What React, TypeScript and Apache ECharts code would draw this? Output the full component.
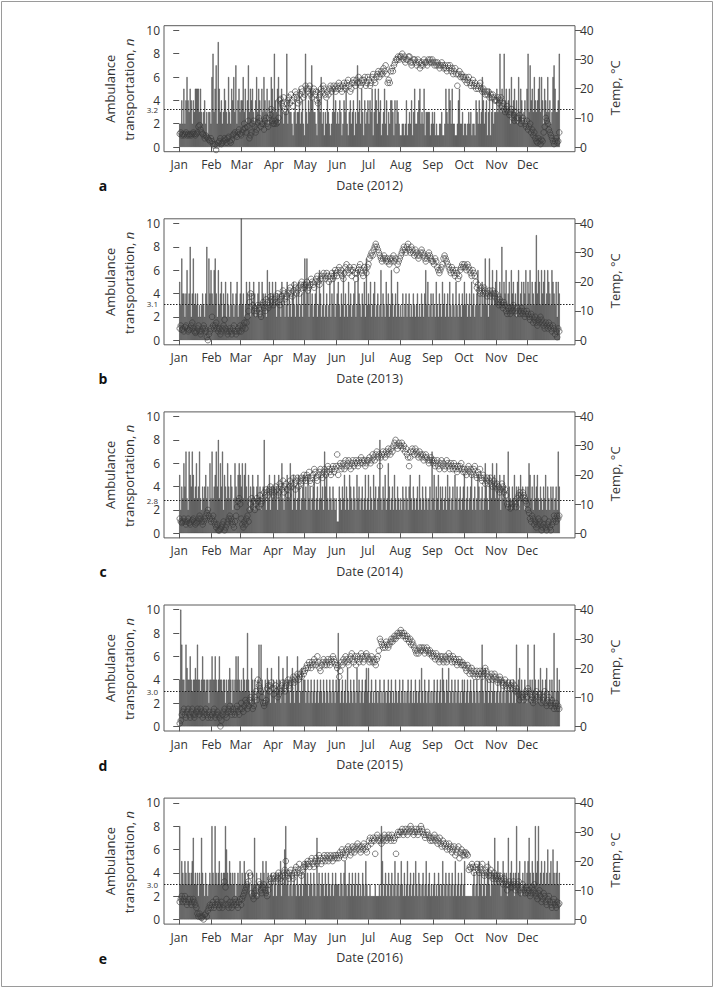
import React, { useEffect, useRef } from "react";
import * as echarts from "echarts";

// ---------- data ----------
const years = [2012, 2013, 2014, 2015, 2016];
const panelLetters = ["a", "b", "c", "d", "e"];
const meanCounts = [3.2, 3.1, 2.8, 3.0, 3.0];
const meanLabels = ["3.2", "3.1", "2.8", "3.0", "3.0"];
const monthNames = ["Jan", "Feb", "Mar", "Apr", "May", "Jun", "Jul", "Aug", "Sep", "Oct", "Nov", "Dec"];
const countTicks = [0, 2, 4, 6, 8, 10];
const tempTicks = [0, 10, 20, 30, 40];

// daily ambulance transportation counts
const count2012 = [
  2,2,4,2,5,2,4,6,4,3,5,4,2,4,3,5,5,5,5,3,5,3,2,3,4,2,3,1,3,3,2,
  6,8,3,5,7,2,9,5,3,4,2,3,5,4,3,2,6,3,2,5,4,6,3,7,2,4,5,3,4,
  4,6,3,5,2,4,7,3,5,4,5,3,2,4,6,3,5,4,2,5,3,6,4,3,5,2,4,3,6,5,3,
  8,4,3,5,6,2,4,5,3,2,3,3,8,2,4,3,3,2,1,3,4,2,3,3,5,2,3,4,2,1,
  8,3,2,4,3,5,7,4,3,3,2,1,5,4,3,6,2,3,1,3,2,4,3,2,1,2,3,5,3,4,2,
  3,2,4,3,1,2,4,3,5,2,1,3,4,2,3,4,1,3,2,7,3,4,2,5,3,1,4,2,3,4,
  2,4,3,5,1,3,5,4,2,5,3,4,1,2,3,5,2,4,1,3,2,4,4,3,1,4,2,4,3,2,1,
  1,2,2,1,2,4,1,2,3,2,4,1,3,5,2,2,3,4,5,2,3,2,5,1,3,3,3,3,1,2,3,
  2,3,1,2,1,1,2,2,3,1,1,2,5,3,2,5,4,2,5,2,2,1,1,2,4,5,2,2,3,1,
  2,2,1,2,3,2,3,1,2,2,1,4,3,2,4,2,3,6,4,2,3,4,1,3,5,1,3,4,2,3,3,
  5,3,4,8,3,5,3,8,4,5,3,4,5,2,6,3,4,5,3,4,2,6,3,5,4,2,3,4,2,5,
  8,3,7,4,5,3,6,4,3,4,5,6,3,6,4,2,5,4,3,6,3,4,2,3,6,7,5,3,3,4,8,
];
const count2013 = [
  5,3,7,4,4,2,4,6,3,4,8,2,4,7,3,4,3,4,2,3,2,3,4,3,2,4,8,3,7,4,6,
  4,3,6,7,4,2,6,3,4,5,2,4,3,5,2,4,3,2,5,3,4,2,3,4,5,2,3,4,
  11,3,4,2,3,5,4,3,5,2,4,3,5,4,2,3,4,5,2,3,5,4,3,4,2,6,3,5,4,3,5,
  4,3,5,2,4,3,4,2,5,3,4,2,3,5,2,4,3,2,4,5,3,2,4,3,5,2,3,4,2,5,
  7,3,7,4,2,5,3,4,2,3,4,5,2,3,6,4,2,3,5,2,3,4,2,3,5,2,4,3,6,2,3,
  4,5,3,2,4,3,6,2,4,3,2,5,3,4,2,3,4,5,2,3,6,4,3,2,4,3,5,2,7,3,
  4,3,5,2,3,4,5,2,3,4,2,3,6,2,4,3,2,5,3,4,2,3,6,4,2,3,4,2,5,3,2,
  3,2,4,2,3,4,2,3,4,2,3,2,4,3,2,3,4,2,3,2,4,3,2,4,6,3,5,2,3,4,2,
  4,3,2,5,3,2,4,3,2,5,3,4,2,3,4,2,5,3,2,4,3,2,5,3,2,4,3,2,4,3,
  5,3,4,2,3,4,2,5,3,4,2,3,4,6,3,4,2,5,3,4,7,3,4,2,7,3,4,6,3,4,5,
  6,4,3,5,4,8,3,5,4,6,3,4,5,3,6,4,5,3,4,2,5,6,3,4,5,3,5,4,6,3,
  5,4,6,3,5,4,3,5,9,4,6,5,3,6,4,5,6,3,4,6,5,4,3,6,5,4,3,5,2,5,4,
];
const count2014 = [
  5,2,4,3,6,4,7,3,2,7,5,4,7,5,3,4,6,3,4,7,3,2,4,3,4,5,3,4,2,6,3,
  7,3,4,5,7,4,8,3,6,4,7,2,5,4,3,6,4,3,5,4,2,3,6,4,3,5,6,5,
  4,6,3,5,6,4,3,5,2,4,3,5,4,2,3,4,5,3,4,2,3,4,8,3,2,4,3,5,2,4,3,
  4,5,3,4,2,5,3,4,6,3,2,4,3,5,4,3,6,4,2,5,3,4,2,3,5,4,2,3,4,5,
  3,4,2,5,3,4,2,3,4,5,2,3,4,2,3,5,3,4,2,7,4,5,3,2,4,3,2,4,3,2,3,
  1,1,4,3,2,4,3,5,2,4,3,2,5,4,3,2,4,3,2,5,3,4,2,3,4,2,3,5,2,3,
  5,2,4,3,2,5,3,4,2,3,4,8,3,2,4,3,5,2,3,6,4,2,3,4,2,5,3,2,4,3,2,
  3,2,4,3,2,4,3,2,4,5,3,2,4,3,2,3,4,2,5,3,2,4,3,2,4,3,2,3,4,2,7,
  3,5,2,4,3,5,2,4,3,4,2,3,4,2,5,3,4,2,3,4,2,5,3,4,2,3,4,2,3,4,
  5,2,3,4,2,3,4,5,2,3,4,2,3,5,4,2,3,4,2,3,6,4,3,2,5,4,3,6,4,5,3,
  6,4,3,5,2,4,3,5,4,3,2,7,4,3,2,4,3,5,2,4,3,4,2,5,3,4,3,2,4,3,
  4,6,5,3,4,2,5,3,4,5,3,2,4,3,2,4,3,5,2,4,3,2,4,3,4,2,3,4,2,7,4,
];
const count2015 = [
  4,10,7,4,4,3,7,5,4,4,6,4,3,4,4,5,4,7,4,4,3,4,6,4,4,3,4,4,2,4,4,
  6,4,4,6,4,3,4,6,4,4,3,4,4,2,4,3,4,5,4,2,4,3,4,6,4,6,4,3,
  4,3,5,4,3,4,8,4,3,2,5,4,3,4,2,3,4,7,3,7,4,3,2,4,3,5,4,3,2,5,3,
  4,3,2,4,3,6,4,2,3,5,4,2,3,6,4,3,2,4,5,3,2,4,3,6,4,2,3,5,3,4,
  4,2,3,4,2,3,4,2,3,4,2,3,4,2,3,4,3,2,4,3,2,4,3,2,4,3,2,4,3,2,4,
  3,8,4,2,3,4,2,3,4,2,5,3,2,4,3,2,4,3,2,5,3,4,2,3,4,2,3,4,5,3,
  5,2,3,4,2,3,2,4,3,2,3,4,2,3,2,4,3,2,3,4,2,3,4,2,3,2,4,3,2,3,4,
  2,3,4,2,3,2,3,4,2,3,4,2,3,2,4,3,2,3,4,2,5,3,2,4,3,2,3,4,2,3,2,
  3,4,2,3,4,2,3,4,2,5,4,3,2,4,3,5,2,3,4,2,3,4,2,3,4,2,3,2,4,3,
  4,2,3,4,2,3,4,3,2,4,3,2,4,3,2,3,4,7,3,2,5,3,4,2,3,4,2,3,4,3,2,
  3,4,2,3,4,2,3,4,2,3,4,3,2,4,3,2,4,3,2,7,3,4,5,3,4,2,3,4,3,2,
  7,3,4,2,4,3,7,4,2,3,4,2,5,3,4,2,3,4,5,2,3,4,2,4,3,8,2,3,5,3,4,
];
const count2016 = [
  8,3,5,4,3,5,4,3,5,4,3,4,5,7,3,4,3,4,2,4,3,7,4,3,2,4,3,2,3,4,3,
  8,4,3,8,4,3,4,5,3,4,3,4,4,8,6,4,3,5,4,3,4,3,4,2,3,4,3,5,3,
  4,3,5,4,3,3,4,3,2,3,4,3,7,3,4,2,3,3,4,3,5,4,3,5,3,4,2,3,4,3,2,
  3,4,2,3,4,3,5,2,4,3,6,8,3,4,2,3,4,2,3,4,3,2,4,3,2,3,4,2,3,4,
  5,3,4,2,3,4,3,2,4,3,2,7,3,4,2,3,4,3,2,4,3,2,4,3,2,3,4,2,3,4,3,
  3,3,2,4,3,2,4,5,3,2,3,4,2,3,4,2,3,4,2,3,4,2,3,2,4,3,2,5,3,2,
  2,3,2,2,2,2,3,2,2,2,3,2,8,5,2,3,4,2,3,4,2,3,4,2,3,5,2,3,4,2,3,
  5,3,2,4,2,3,5,2,3,4,2,3,4,2,5,3,2,4,3,2,3,4,2,3,5,2,3,4,2,3,2,
  3,4,2,3,2,4,3,2,3,5,2,3,4,2,3,4,2,3,4,2,3,5,2,3,4,2,3,4,2,3,
  5,2,2,2,2,2,2,2,3,4,2,3,4,2,5,3,4,2,3,4,2,3,4,5,3,2,4,3,4,7,3,
  4,5,3,4,2,3,5,4,3,4,2,7,3,4,5,3,4,2,4,8,3,4,5,3,2,4,3,5,3,4,
  5,7,4,3,5,4,3,8,4,5,8,3,4,5,3,4,5,3,4,6,3,4,5,3,6,4,3,4,5,3,4,
];

// daily temperature, deg C
const temp2012 = [
  4.5,5,4,4.5,4,4.5,5,4,4.5,4,4.5,4,4.5,5,4.5,4,4.5,5,7,7.5,6,5,4.5,4,3,4,3.5,3,2.5,2,3,
  2,1,0.5,1,-1,0.5,1.5,2,3,1,1.5,2,3,2.5,1.5,3,3.5,2,1.5,2.5,4,4.5,5,4,3.5,5,6,4.5,4,
  5,6,8,6.5,5,7,9,3,4,5,8,9,7,5,6,8.5,10,9,7,8,8,6,9,10,8,7,10,11,13,9,8,
  8,9,8,8.5,10,16,16.5,15,14,17,13,12,15,16,17,15,18,16,14,17,19,18,17,15,16,18,20,19,17,18,
  21,20,19,20,21,18,17,19,20,18,19,16,15,17,18,20,19,21,20,18,17,19,18,20,21,19,20,21,20,19,21,
  20,22,21,20,19,21,22,20,21,22,23,21,19,20,22,23,22,21,23,22,24,22,21,23,22,23,24,21,22,24,
  23,21,22,24,25,23,22,24,25,26,24,25,26,25,27,26,28,25,22,23,22,26,27,26,28,29,30,30,31,30,31,
  31,32,30,31,29,30,30,31,31,29,28,29,30,30,29,28,30,29,27,28,29,28,30,29,29,28,30,29,30,29,30,
  29,28,29,28,29,28,27,28,29,28,27,28,27,26,28,27,28,26,27,25,26,27,25,21,25,26,24,25,24,24,
  23,24,22,23,24,22,21,22,23,21,22,20,21,20,21,22,20,19,20,19,18,19,18,19,17,18,17,18,17,16,16,
  16,17,15,16,17,14,15,13,12,13,14,12,11,12,13,10,11,9,12,10,9,10,11,8,9,10,9,8,7,9,
  6,7,8,5,6,4,5,3,2,1.5,3,2,1,2.5,2,5,7,10,9,8,6,5,4,3,2,1,2,3,1.5,2,5,
];
const temp2013 = [
  4,5,3.5,4,3,4.5,5,4,3,3.5,4,5,6,4,3,2.5,3,4,5,3,2,3,4,5,4,3,1,0,2,3,4,
  8,5,4,5,6,4,3,4,2,3,4,5,7,4,3,2,3,4,3,2,4,5,3,2,3,4,3,5,
  3,4,5,6,4,6,8,10,13,16,15,12,10,11,9,10,12,11,9,8,12,13,11,10,14,13,11,12,15,14,13,
  12,14,13,15,16,13,12,14,15,17,16,14,15,13,16,17,18,16,15,17,19,18,16,17,18,16,19,20,18,19,
  18,19,20,17,18,19,21,20,19,18,20,21,22,20,19,21,22,21,23,22,21,23,22,20,21,22,23,21,22,24,23,
  22,24,25,23,24,22,21,23,25,26,24,23,25,24,22,24,25,23,21,23,24,25,26,24,23,22,25,24,23,25,
  26,28,29,30,29,31,32,33,32,31,30,29,28,27,28,29,28,27,28,27,26,28,27,28,29,27,28,24,26,27,28,
  29,30,31,32,31,30,32,33,31,30,32,31,30,29,31,30,29,28,29,30,31,30,29,28,27,28,29,30,29,28,27,
  27,26,28,27,25,24,23,24,25,26,28,29,28,27,26,25,24,23,25,24,23,22,24,23,21,22,24,25,26,25,
  26,25,24,26,25,24,23,22,24,23,22,20,18,19,17,16,18,17,16,18,17,16,15,16,17,15,16,17,16,15,16,
  14,13,12,14,13,12,11,13,12,10,9,11,10,9,11,10,12,11,10,9,11,10,9,10,11,9,10,8,9,10,
  9,8,7,9,8,6,7,8,6,5,7,6,8,7,6,5,4,6,5,4,6,5,4,3,5,4,2,3,1,4,3,
];
const temp2014 = [
  5,4,3.5,4,5,4,3,4,5,3.5,3,4,4.5,5,4,3,3.5,4,5,6,5,4,3,4,5,6,7,8,6,5,4,
  5,6,4,3,2,3,1,1,1.5,2,3,4,1,2,3,4,5,6,5,4,3,2,4,6,9,11,12,10,
  5,3,2,4,3,5,6,4,8,10,12,9,11,8,10,12,11,9,13,10,11,12,14,13,15,14,13,15,16,14,15,
  13,14,16,15,13,14,17,16,15,18,14,16,17,15,13,16,18,17,16,19,17,15,18,19,16,18,17,19,18,20,
  19,18,20,19,21,18,17,19,20,22,21,19,18,20,21,22,20,19,21,22,20,21,23,22,21,20,22,23,21,22,23,
  27,20,23,24,22,23,24,22,25,23,24,25,23,22,24,25,23,24,25,24,23,25,24,26,25,24,25,23,24,25,
  25,26,24,25,27,26,25,27,28,26,27,23,26,27,28,27,26,28,27,29,28,27,29,28,30,31,32,30,29,31,30,
  30,31,29,30,28,29,27,26,23,26,28,29,28,27,29,28,27,26,28,27,26,27,25,26,27,26,25,24,25,26,25,
  24,25,23,24,25,23,22,24,25,23,24,22,23,25,24,23,22,24,23,22,24,23,22,21,23,22,23,24,22,21,
  22,21,20,22,23,21,22,20,21,22,23,20,19,21,20,22,19,18,20,19,17,18,19,17,18,19,17,16,18,17,16,
  17,15,16,14,15,17,16,14,15,13,10,9,10,8.5,9,10,9,11,10,9,12,13,14,13,12,14,13,12,11,10,
  8,7,5,4,6,5,3,4,2,3,5,4,3,1,2,3,5,2,1,3,4,2,1,3,4,6,5,4,6,5,6,
];
const temp2015 = [
  1,2,4,5,6,4,3,5,6,4,3,5,6,4,3,4,5,6,5,4,6,5,3,4,5,6,4,3,5,4,3,
  4,5,6,3,4,5,4,3,0,2,4,5,6,4,3,5,6,7,5,4,6,5,4,6,7,5,4,6,
  8,6,5,7,9,8,6,7,9,10,8,6,7,10,12,9,16,14,13,12,10,8,7,8,9,13,14,12,14,15,13,
  11,13,14,12,10,11,13,12,14,15,13,12,14,15,16,14,13,15,16,17,15,16,17,18,16,17,18,17,19,18,
  19,20,21,20,22,21,20,22,21,23,22,21,24,22,20,19,21,22,23,21,22,21,23,22,21,23,22,24,23,22,21,
  20,21,17,19,22,21,23,22,24,23,22,21,23,24,25,23,22,24,21,23,24,22,23,25,24,22,23,24,25,24,
  23,22,23,24,22,23,22,21,23,24,26,30,29,28,27,28,27,29,28,27,28,29,30,29,30,31,30,31,32,31,32,
  33,32,31,32,31,30,31,30,29,30,28,29,28,27,26,25,26,25,27,26,27,26,27,25,26,27,26,25,26,25,24,
  25,24,23,25,24,23,22,24,23,24,22,23,24,22,23,25,24,23,22,24,23,22,23,21,22,23,22,21,22,21,
  21,20,19,21,20,18,19,20,18,19,17,18,19,17,18,19,18,17,19,18,20,19,18,17,16,17,18,16,17,18,17,
  16,15,16,17,16,15,14,15,16,14,13,15,14,13,14,15,13,14,12,13,12,11,9,10,11,10,9,11,12,10,
  13,12,11,9,10,8,9,11,12,10,9,11,10,8,9,10,12,8,7,9,10,8,7,9,8,6,7,8,6,7,6,
];
const temp2016 = [
  6,7,8,6,7,8,6,5,7,6,7,5,6,7,6,5,4,2,1,2,1,0.5,1,0,1.5,2,1,3,4,5,4,
  5,6,4,5,7,6,5,4,5,6,4,5,13,11,7,5,4,6,5,4,6,5,7,6,5,4,6,7,5,
  7,8,9,10,11,12,13,16,15,9,8,7,9,10,8,11,13,12,10,9,11,12,10,9,8,10,12,14,13,14,15,
  14,13,15,14,16,15,14,13,15,16,17,20,16,15,14,16,17,15,14,16,17,18,16,17,19,16,15,17,18,19,
  18,19,20,19,18,20,21,19,18,20,21,19,20,22,21,19,20,21,22,20,21,22,20,21,22,21,20,22,21,22,21,
  22,21,23,22,24,23,21,22,24,23,25,24,22,23,25,24,23,25,24,26,25,24,23,25,24,26,25,24,23,25,
  27,28,26,27,28,27,22.5,28,29,27,28,27,26,28,27,29,28,27,28,29,28,27,29,28,27,28,22.5,29,30,29,30,
  30,31,29,30,31,30,29,31,30,32,31,30,29,30,31,30,29,31,30,32,31,30,29,28,29,30,29,28,27,28,27,
  28,29,27,28,26,27,28,26,25,27,26,25,26,24,25,26,24,25,23,24,25,22,23,24,25,21,23,24,22,23,
  22,23,22.5,22,17,18,17.5,19,18,16,17,18,19,17,16,18,17,19,16,15,17,16,18,15,16,17,15,14,16,15,14,
  15,14,13,15,14,13,12,14,13,12,10,12,13,11,12,11,13,12,10,11,12,13,10,9,11,12,10,9,11,10,
  9,10,8,9,11,10,12,9,8,7,9,10,8,6,7,9,8,6,5,7,8,6,5,4,6,7,5,4,6,5,5.5,
];

const countsByYear = [count2012, count2013, count2014, count2015, count2016];
const tempsByYear = [temp2012, temp2013, temp2014, temp2015, temp2016];

// ---------- layout ----------
const W = 714;
const H = 988;
const FONT = "'Open Sans', 'DejaVu Sans', sans-serif";
const PANEL_STEP = 193.1;
const FRAME_TOP = 25.7;
const FRAME_H = 126;
const FRAME_LEFT = 164;
const FRAME_W = 411;
const TEXT = "#333";

function isLeap(y: number) {
  return (y % 4 === 0 && y % 100 !== 0) || y % 400 === 0;
}
function monthStarts(y: number) {
  const lens = [31, isLeap(y) ? 29 : 28, 31, 30, 31, 30, 31, 31, 30, 31, 30, 31];
  const out: number[] = [];
  let acc = 0;
  for (const l of lens) {
    out.push(acc);
    acc += l;
  }
  return out;
}

function buildOption() {
  const grid: any[] = [];
  const xAxis: any[] = [];
  const yAxis: any[] = [];
  const series: any[] = [];
  const graphic: any[] = [
    {
      type: "rect",
      shape: { x: 1.5, y: 1.5, width: W - 3, height: H - 3 },
      style: { fill: "none", stroke: "#9a9a9a", lineWidth: 1 },
      silent: true,
    },
  ];

  years.forEach((yr, k) => {
    const counts = countsByYear[k];
    const temps = tempsByYear[k];
    const n = counts.length;
    const starts = monthStarts(yr);
    const top = FRAME_TOP + k * PANEL_STEP;
    const midY = top + FRAME_H / 2;

    grid.push({
      left: FRAME_LEFT,
      top,
      width: FRAME_W,
      height: FRAME_H,
      show: true,
      borderColor: "#5a5a5a",
      borderWidth: 1,
      backgroundColor: "transparent",
    });

    xAxis.push({
      type: "value",
      gridIndex: k,
      min: -0.04 * n,
      max: 1.04 * n,
      axisLine: { show: false },
      splitLine: { show: false },
      axisTick: {
        show: true,
        customValues: starts,
        length: 5,
        lineStyle: { color: "#555", width: 1 },
      },
      axisLabel: {
        customValues: starts,
        formatter: (v: number) => {
          const i = starts.indexOf(Math.round(v));
          return i >= 0 ? monthNames[i] : "";
        },
        color: TEXT,
        fontSize: 12,
        fontFamily: FONT,
        margin: 7,
      },
    });

    yAxis.push({
      type: "value",
      gridIndex: k,
      position: "left",
      min: -0.4,
      max: 10.4,
      axisLine: { show: false },
      splitLine: { show: false },
      axisTick: {
        show: true,
        customValues: countTicks,
        length: 6,
        lineStyle: { color: "#555", width: 1 },
      },
      axisLabel: {
        customValues: countTicks,
        color: TEXT,
        fontSize: 12,
        fontFamily: FONT,
        margin: 4,
      },
    });
    yAxis.push({
      type: "value",
      gridIndex: k,
      position: "right",
      min: -1.6,
      max: 41.6,
      axisLine: { show: false },
      splitLine: { show: false },
      axisTick: {
        show: true,
        customValues: tempTicks,
        length: 6,
        lineStyle: { color: "#555", width: 1 },
      },
      axisLabel: {
        customValues: tempTicks,
        color: TEXT,
        fontSize: 12,
        fontFamily: FONT,
        margin: 5,
      },
    });

    series.push({
      type: "bar",
      xAxisIndex: k,
      yAxisIndex: 2 * k,
      data: counts.map((c, i) => [i + 0.5, c]),
      barWidth: 1.04,
      clip: true,
      itemStyle: { color: "#8a8a8a", borderColor: "#262626", borderWidth: 0.4 },
      silent: true,
      markLine: {
        silent: true,
        symbol: "none",
        data: [{ yAxis: meanCounts[k] }],
        lineStyle: { type: [1.5, 1.5], color: "#222", width: 1 },
        label: {
          show: true,
          position: "start",
          formatter: meanLabels[k],
          fontSize: 8,
          color: TEXT,
          fontFamily: FONT,
          distance: 6,
        },
      },
    });
    series.push({
      type: "scatter",
      xAxisIndex: k,
      yAxisIndex: 2 * k + 1,
      data: temps.map((t, i) => [i + 0.5, t]),
      symbol: "circle",
      symbolSize: 5.6,
      silent: true,
      itemStyle: { color: "rgba(255,255,255,0)", borderColor: "#3a3a3a", borderWidth: 0.8 },
    });

    // axis titles and panel letters
    graphic.push({
      type: "text",
      x: 110,
      y: midY,
      rotation: Math.PI / 2,
      style: {
        text: "Ambulance",
        fill: TEXT,
        fontSize: 13,
        fontFamily: FONT,
        align: "center",
        verticalAlign: "middle",
      },
      silent: true,
    });
    graphic.push({
      type: "text",
      x: 128.5,
      y: midY + 1,
      rotation: Math.PI / 2,
      style: {
        text: "{r|transportation, }{i|n}",
        rich: {
          r: { fill: TEXT, fontSize: 13, fontFamily: FONT },
          i: { fill: TEXT, fontSize: 13, fontFamily: FONT, fontStyle: "italic" },
        },
        align: "center",
        verticalAlign: "middle",
      },
      silent: true,
    });
    graphic.push({
      type: "text",
      x: 615,
      y: midY - 1,
      rotation: Math.PI / 2,
      style: {
        text: "Temp, °C",
        fill: TEXT,
        fontSize: 13,
        fontFamily: FONT,
        align: "center",
        verticalAlign: "middle",
      },
      silent: true,
    });
    graphic.push({
      type: "text",
      x: FRAME_LEFT + FRAME_W / 2,
      y: top + 159.5,
      style: {
        text: `Date (${yr})`,
        fill: TEXT,
        fontSize: 12.5,
        fontFamily: FONT,
        align: "center",
        verticalAlign: "middle",
      },
      silent: true,
    });
    graphic.push({
      type: "text",
      x: 103,
      y: top + 160,
      style: {
        text: panelLetters[k],
        fill: "#111",
        fontSize: 14,
        fontWeight: "bold",
        fontFamily: FONT,
        align: "center",
        verticalAlign: "middle",
      },
      silent: true,
    });
  });

  return {
    animation: false,
    backgroundColor: "#ffffff",
    grid,
    xAxis,
    yAxis,
    series,
    graphic,
  };
}

export default function App() {
  const ref = useRef<HTMLDivElement>(null);
  useEffect(() => {
    if (!ref.current) return;
    const chart = echarts.init(ref.current, undefined, { renderer: "svg", width: W, height: H });
    chart.setOption(buildOption() as any);
    return () => chart.dispose();
  }, []);
  return (
    <div
      ref={ref}
      style={{ position: "absolute", left: 0, top: 0, width: W, height: H, background: "#fff" }}
    />
  );
}
